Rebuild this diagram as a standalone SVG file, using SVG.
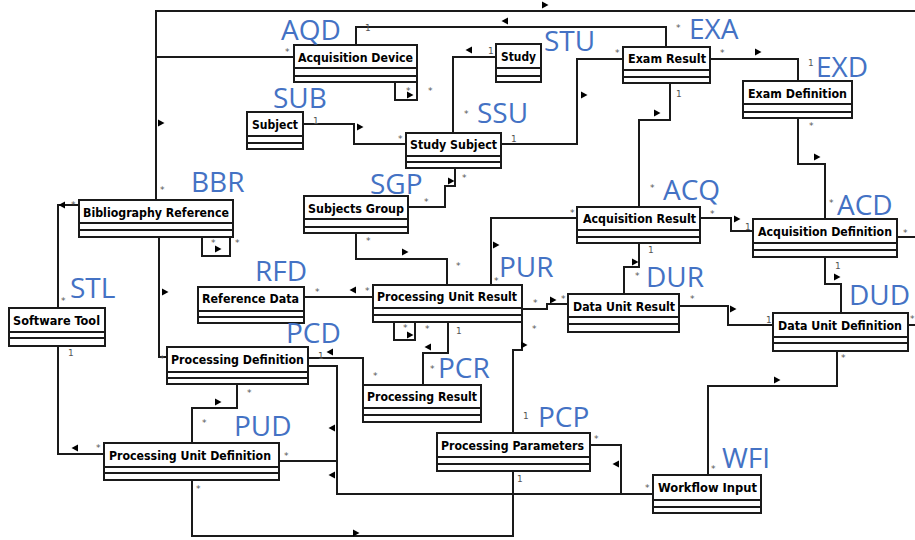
<svg xmlns="http://www.w3.org/2000/svg" width="915" height="540" viewBox="0 0 915 540">
<defs>
<style>
.box{fill:#fff;stroke:#1a1a1a;stroke-width:2}
.sep{stroke:#1a1a1a;stroke-width:2}
.nm{font-family:"DejaVu Sans Condensed","DejaVu Sans",sans-serif;font-weight:bold;font-size:12px;fill:#000}
.ab{font-family:"Open Sans","Noto Sans",sans-serif;font-size:28px;fill:#4472C4}
.m{font-family:"DejaVu Sans",sans-serif;font-size:9px;fill:#555}
.cn{fill:none;stroke:#1a1a1a;stroke-width:2}
.ar{fill:#000}
</style>
<path id="r" d="M-3,-3.5 L3.5,0 L-3,3.5 Z"/>
<path id="l" d="M3,-3.5 L-3.5,0 L3,3.5 Z"/>
</defs>
<rect width="915" height="540" fill="#fff"/>
<g id="connectors">
<path class="cn" d="M156,200 V11 H915"/>
<path class="cn" d="M156,57 H294"/>
<path class="cn" d="M356,45 V27 H666 V47"/>
<path class="cn" d="M496,57 H453 V133"/>
<path class="cn" d="M623,59 H577 V144 H501"/>
<path class="cn" d="M303,124 H354 V144 H406"/>
<path class="cn" d="M395,82 V100 H417 V82"/>
<path class="cn" d="M710,59 H798 V81"/>
<path class="cn" d="M798,118 V164 H825 V219"/>
<path class="cn" d="M670,83 V120 H639 V207"/>
<path class="cn" d="M700,218 H731 V231 H753"/>
<path class="cn" d="M897,237 H915"/>
<path class="cn" d="M825,257 V284 H841 V313"/>
<path class="cn" d="M908,325 H915"/>
<path class="cn" d="M679,306 H728 V325 H773"/>
<path class="cn" d="M639,243 V267 H624 V294"/>
<path class="cn" d="M577,218 H491 V285"/>
<path class="cn" d="M522,309 H547 V304 H568"/>
<path class="cn" d="M522,322 V350 H513 V433"/>
<path class="cn" d="M513,471 V536 H192 V480"/>
<path class="cn" d="M590,445 H621 V494"/>
<path class="cn" d="M308,366 H337 V494 H653"/>
<path class="cn" d="M279,461 H337"/>
<path class="cn" d="M308,358 H363 V385"/>
<path class="cn" d="M448,322 V353 H423 V385"/>
<path class="cn" d="M394,322 V340 H415 V322"/>
<path class="cn" d="M408,207 H445 V186 H455 V168"/>
<path class="cn" d="M356,233 V259 H447 V285"/>
<path class="cn" d="M373,297 H304"/>
<path class="cn" d="M202,237 V256 H230 V237"/>
<path class="cn" d="M159,237 V357 H167"/>
<path class="cn" d="M58,308 V205 H79"/>
<path class="cn" d="M58,346 V454 H104"/>
<path class="cn" d="M192,443 V408 H237 V384"/>
<path class="cn" d="M837,351 V386 H708 V475"/>
<g class="ar">
<use href="#r" x="161" y="123"/>
<use href="#r" x="545" y="5"/>
<use href="#l" x="505" y="21"/>
<use href="#l" x="469" y="50"/>
<use href="#r" x="584" y="95"/>
<use href="#r" x="360" y="127"/>
<use href="#r" x="410" y="95"/>
<use href="#r" x="758" y="52"/>
<use href="#r" x="817" y="157"/>
<use href="#r" x="657" y="113"/>
<use href="#r" x="737" y="219"/>
<use href="#r" x="837" y="277"/>
<use href="#r" x="733" y="309"/>
<use href="#r" x="635" y="262"/>
<use href="#r" x="496" y="245"/>
<use href="#r" x="553" y="300"/>
<use href="#r" x="524" y="345"/>
<use href="#r" x="356" y="533"/>
<use href="#l" x="616" y="464"/>
<use href="#l" x="332" y="428"/>
<use href="#l" x="332" y="475"/>
<use href="#l" x="330" y="352"/>
<use href="#l" x="428" y="347"/>
<use href="#r" x="410" y="335"/>
<use href="#l" x="353" y="290"/>
<use href="#r" x="405" y="252"/>
<use href="#r" x="451" y="181"/>
<use href="#r" x="218" y="249"/>
<use href="#r" x="165" y="292"/>
<use href="#l" x="62" y="205"/>
<use href="#l" x="75" y="448"/>
<use href="#r" x="218" y="402"/>
<use href="#r" x="777" y="380"/>
</g>
<g class="m">
<text x="365" y="31">1</text>
<text x="676" y="31">*</text>
<text x="285" y="55">*</text>
<text x="160" y="193">*</text>
<text x="488" y="54">1</text>
<text x="464" y="117">*</text>
<text x="615" y="56">*</text>
<text x="511" y="142">1</text>
<text x="313" y="124">1</text>
<text x="398" y="142">*</text>
<text x="406" y="94">*</text>
<text x="428" y="94">*</text>
<text x="720" y="56">*</text>
<text x="808" y="66">1</text>
<text x="809" y="129">*</text>
<text x="829" y="206">*</text>
<text x="676" y="97">1</text>
<text x="650" y="191">*</text>
<text x="710" y="217">*</text>
<text x="745" y="230">1</text>
<text x="903" y="236">*</text>
<text x="835" y="269">1</text>
<text x="910" y="322">*</text>
<text x="690" y="302">*</text>
<text x="766" y="323">1</text>
<text x="648" y="253">1</text>
<text x="635" y="279">*</text>
<text x="570" y="216">*</text>
<text x="494" y="284">*</text>
<text x="456" y="269">*</text>
<text x="533" y="306">*</text>
<text x="561" y="302">*</text>
<text x="532" y="332">*</text>
<text x="523" y="419">1</text>
<text x="517" y="482">1</text>
<text x="196" y="492">*</text>
<text x="594" y="442">*</text>
<text x="645" y="491">*</text>
<text x="284" y="459">*</text>
<text x="318" y="359">1</text>
<text x="373" y="379">*</text>
<text x="430" y="372">*</text>
<text x="456" y="334">1</text>
<text x="403" y="331">*</text>
<text x="425" y="332">*</text>
<text x="365" y="294">*</text>
<text x="315" y="295">*</text>
<text x="366" y="244">*</text>
<text x="424" y="205">*</text>
<text x="462" y="181">*</text>
<text x="211" y="246">*</text>
<text x="235" y="246">*</text>
<text x="161" y="233">*</text>
<text x="160" y="362">*</text>
<text x="61" y="304">*</text>
<text x="71" y="208">*</text>
<text x="68" y="356">1</text>
<text x="96" y="451">*</text>
<text x="202" y="426">*</text>
<text x="247" y="396">*</text>
<text x="841" y="361">*</text>
<text x="711" y="472">*</text>
</g>
</g>
<g id="AQD"><rect class="box" x="294" y="45" width="123" height="37"/><path class="sep" d="M294,68 H417 M294,76 H417"/><text class="nm" x="298" y="62" textLength="115" lengthAdjust="spacingAndGlyphs">Acquisition Device</text></g>
<g id="SUB"><rect class="box" x="247" y="112" width="56" height="37"/><path class="sep" d="M247,136 H303 M247,143 H303"/><text class="nm" x="252" y="129" textLength="46" lengthAdjust="spacingAndGlyphs">Subject</text></g>
<g id="SSU"><rect class="box" x="406" y="133" width="95" height="35"/><path class="sep" d="M406,156 H501 M406,162 H501"/><text class="nm" x="410" y="149" textLength="87" lengthAdjust="spacingAndGlyphs">Study Subject</text></g>
<g id="STU"><rect class="box" x="496" y="44" width="45" height="38"/><path class="sep" d="M496,68 H541 M496,76 H541"/><text class="nm" x="501" y="61" textLength="35" lengthAdjust="spacingAndGlyphs">Study</text></g>
<g id="EXA"><rect class="box" x="623" y="47" width="87" height="36"/><path class="sep" d="M623,70 H710 M623,77 H710"/><text class="nm" x="628" y="63" textLength="78" lengthAdjust="spacingAndGlyphs">Exam Result</text></g>
<g id="EXD"><rect class="box" x="743" y="81" width="109" height="37"/><path class="sep" d="M743,104 H852 M743,112 H852"/><text class="nm" x="748" y="98" textLength="99" lengthAdjust="spacingAndGlyphs">Exam Definition</text></g>
<g id="BBR"><rect class="box" x="79" y="200" width="154" height="37"/><path class="sep" d="M79,223 H233 M79,230 H233"/><text class="nm" x="83" y="217" textLength="146" lengthAdjust="spacingAndGlyphs">Bibliography Reference</text></g>
<g id="STL"><rect class="box" x="9" y="308" width="96" height="38"/><path class="sep" d="M9,332 H105 M9,338 H105"/><text class="nm" x="13" y="325" textLength="87" lengthAdjust="spacingAndGlyphs">Software Tool</text></g>
<g id="SGP"><rect class="box" x="304" y="196" width="104" height="37"/><path class="sep" d="M304,219 H408 M304,227 H408"/><text class="nm" x="308" y="213" textLength="96" lengthAdjust="spacingAndGlyphs">Subjects Group</text></g>
<g id="RFD"><rect class="box" x="198" y="287" width="106" height="36"/><path class="sep" d="M198,311 H304 M198,317 H304"/><text class="nm" x="202" y="303" textLength="97" lengthAdjust="spacingAndGlyphs">Reference Data</text></g>
<g id="PUR"><rect class="box" x="373" y="285" width="149" height="37"/><path class="sep" d="M373,308 H522 M373,315 H522"/><text class="nm" x="377" y="301" textLength="140" lengthAdjust="spacingAndGlyphs">Processing Unit Result</text></g>
<g id="ACQ"><rect class="box" x="577" y="207" width="123" height="36"/><path class="sep" d="M577,230 H700 M577,237 H700"/><text class="nm" x="583" y="223" textLength="113" lengthAdjust="spacingAndGlyphs">Acquisition Result</text></g>
<g id="ACD"><rect class="box" x="753" y="219" width="144" height="38"/><path class="sep" d="M753,243 H897 M753,250 H897"/><text class="nm" x="758" y="236" textLength="134" lengthAdjust="spacingAndGlyphs">Acquisition Definition</text></g>
<g id="DUR"><rect class="box" x="568" y="294" width="111" height="38"/><path class="sep" d="M568,317 H679 M568,324 H679"/><text class="nm" x="573" y="311" textLength="102" lengthAdjust="spacingAndGlyphs">Data Unit Result</text></g>
<g id="DUD"><rect class="box" x="773" y="313" width="135" height="38"/><path class="sep" d="M773,337 H908 M773,343 H908"/><text class="nm" x="778" y="330" textLength="124" lengthAdjust="spacingAndGlyphs">Data Unit Definition</text></g>
<g id="PCD"><rect class="box" x="167" y="347" width="141" height="37"/><path class="sep" d="M167,372 H308 M167,378 H308"/><text class="nm" x="171" y="364" textLength="133" lengthAdjust="spacingAndGlyphs">Processing Definition</text></g>
<g id="PCR"><rect class="box" x="363" y="385" width="118" height="37"/><path class="sep" d="M363,408 H481 M363,415 H481"/><text class="nm" x="367" y="401" textLength="110" lengthAdjust="spacingAndGlyphs">Processing Result</text></g>
<g id="PCP"><rect class="box" x="437" y="433" width="153" height="38"/><path class="sep" d="M437,457 H590 M437,464 H590"/><text class="nm" x="441" y="450" textLength="143" lengthAdjust="spacingAndGlyphs">Processing Parameters</text></g>
<g id="PUD"><rect class="box" x="104" y="443" width="175" height="37"/><path class="sep" d="M104,467 H279 M104,473 H279"/><text class="nm" x="109" y="460" textLength="162" lengthAdjust="spacingAndGlyphs">Processing Unit Definition</text></g>
<g id="WFI"><rect class="box" x="653" y="475" width="108" height="38"/><path class="sep" d="M653,500 H761 M653,507 H761"/><text class="nm" x="658" y="492" textLength="99" lengthAdjust="spacingAndGlyphs">Workflow Input</text></g>
<g id="labels" class="ab">
<text x="281" y="40">AQD</text>
<text x="273" y="108">SUB</text>
<text x="544" y="51">STU</text>
<text x="477" y="123">SSU</text>
<text x="689" y="39">EXA</text>
<text x="816" y="77">EXD</text>
<text x="191" y="192">BBR</text>
<text x="370" y="194">SGP</text>
<text x="663" y="200">ACQ</text>
<text x="837" y="215">ACD</text>
<text x="70" y="298">STL</text>
<text x="255" y="281">RFD</text>
<text x="499" y="277">PUR</text>
<text x="646" y="287">DUR</text>
<text x="849" y="305">DUD</text>
<text x="286" y="343">PCD</text>
<text x="438" y="378">PCR</text>
<text x="538" y="427">PCP</text>
<text x="234" y="436">PUD</text>
<text x="722" y="468">WFI</text>
</g>
</svg>
